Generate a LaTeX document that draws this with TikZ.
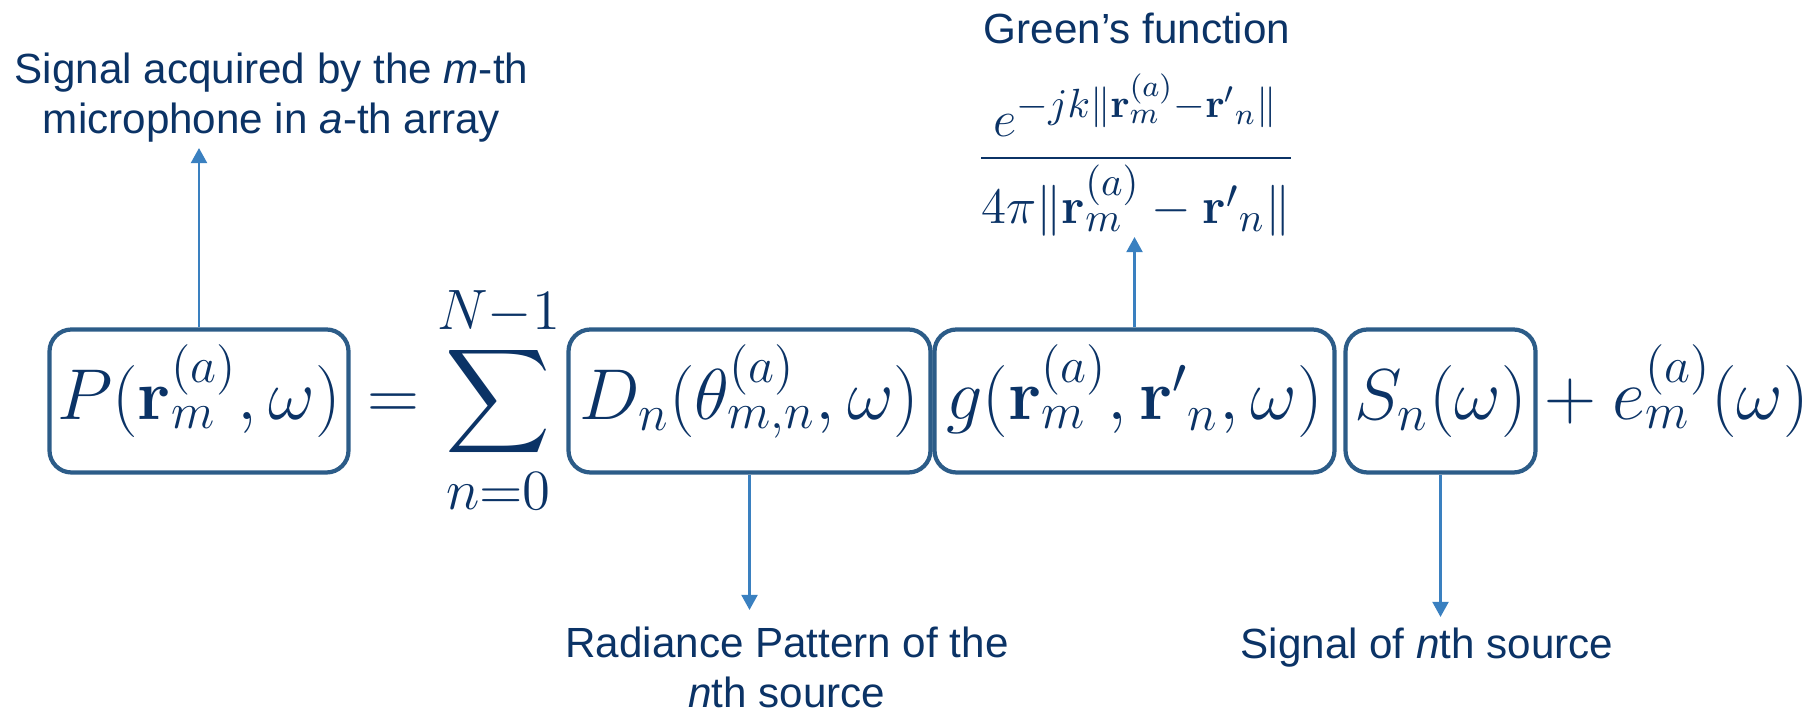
\RequirePackage{fix-cm}
\documentclass[tikz,border=0pt]{standalone}
\usepackage{amsmath}
\usepackage[no-math]{fontspec}
\newfontfamily\notefont{Liberation Sans}
\usetikzlibrary{arrows.meta}

\definecolor{navy}{HTML}{0B3366}
\definecolor{boxblue}{HTML}{2C5C88}
\definecolor{arrowblue}{HTML}{3A80C0}
\DeclareMathSizes{14.5}{14.5}{11.6}{8.6}
\newcommand\eqfont{\fontsize{20.5}{24}\selectfont}
\newcommand\limfont{\fontsize{16.2}{18}\selectfont}
\newcommand\fracfont{\fontsize{14.5}{18}\selectfont}
\newcommand\notesize{\fontsize{12}{14.2}\selectfont}

\begin{document}
\begin{tikzpicture}[
  termbox/.style={draw=boxblue, line width=1.2pt, rounded corners=0.22cm,
    minimum height=1.43cm, inner xsep=0pt, text height=0.62cm,
    text depth=0.24cm, text=navy, font=\eqfont},
  eqpart/.style={inner sep=0pt, text height=0.62cm, text depth=0.24cm,
    text=navy, font=\eqfont},
  note/.style={font={\notefont\notesize}, text=navy, align=center},
  pointer/.style={arrowblue, line width=0.8pt,
    -{Triangle[length=4.3pt, width=4.5pt]}}
]
  \useasboundingbox (0,0) rectangle (18.19,7.11);
  % Received signal model, boxed terms.
  \node[termbox, minimum width=2.99cm] (P) at (1.99,3.10)
    {$P(\mathbf{r}_m^{(a)},\omega)$};
  \node[eqpart] (eq) at (3.93,3.10) {$=$};
  \node[eqpart] (sum) at (4.985,3.10)
    {$\displaystyle\sum_{\mbox{\limfont$n{=}0$}}^{\mbox{\limfont$N{-}1$}}$};
  \node[termbox, minimum width=3.62cm] (D) at (7.495,3.10)
    {$D_n(\theta_{m,n}^{(a)},\omega)$};
  \node[termbox, minimum width=4.0cm] (g) at (11.345,3.10)
    {$g(\mathbf{r}_m^{(a)},{\mathbf{r}'}_n,\omega)$};
  \node[termbox, minimum width=1.9cm] (S) at (14.405,3.10) {$S_n(\omega)$};
  \node[eqpart, anchor=west] (noise) at (15.28,3.10)
    {${}+e_m^{(a)}(\omega)$};
  % Labels.
  \node[note, anchor=south, inner ysep=0.05cm] (mic) at (2.715,5.63)
    {Signal acquired by the \textit{m}-th\\microphone in \textit{a}-th array};
  \node[anchor=south, inner sep=0pt, text=navy, font=\fracfont] (green)
    at (11.36,4.74)
    {$\dfrac{e^{-jk\|\mathbf{r}_m^{(a)}-{\mathbf{r}'}_n\|}}
            {4\pi\|\mathbf{r}_m^{(a)}-{\mathbf{r}'}_n\|}$};
  \node[note, anchor=base] (greentitle) at (11.37,6.67) {Green’s function};
  \node[note, anchor=north, inner ysep=0.16cm] (rad) at (7.87,1.01)
    {Radiance Pattern of the\\\textit{n}th source};
  \node[note, anchor=north, inner ysep=0.1cm] (src) at (14.27,0.94)
    {Signal of \textit{n}th source};
  % Pointers.
  \draw[pointer] (P.north) -- (P.north |- mic.south);
  \draw[pointer] (g.north) -- (g.north |- green.south);
  \draw[pointer] (D.south) -- (D.south |- rad.north);
  \draw[pointer] (S.south) -- (S.south |- src.north);
\end{tikzpicture}
\end{document}
